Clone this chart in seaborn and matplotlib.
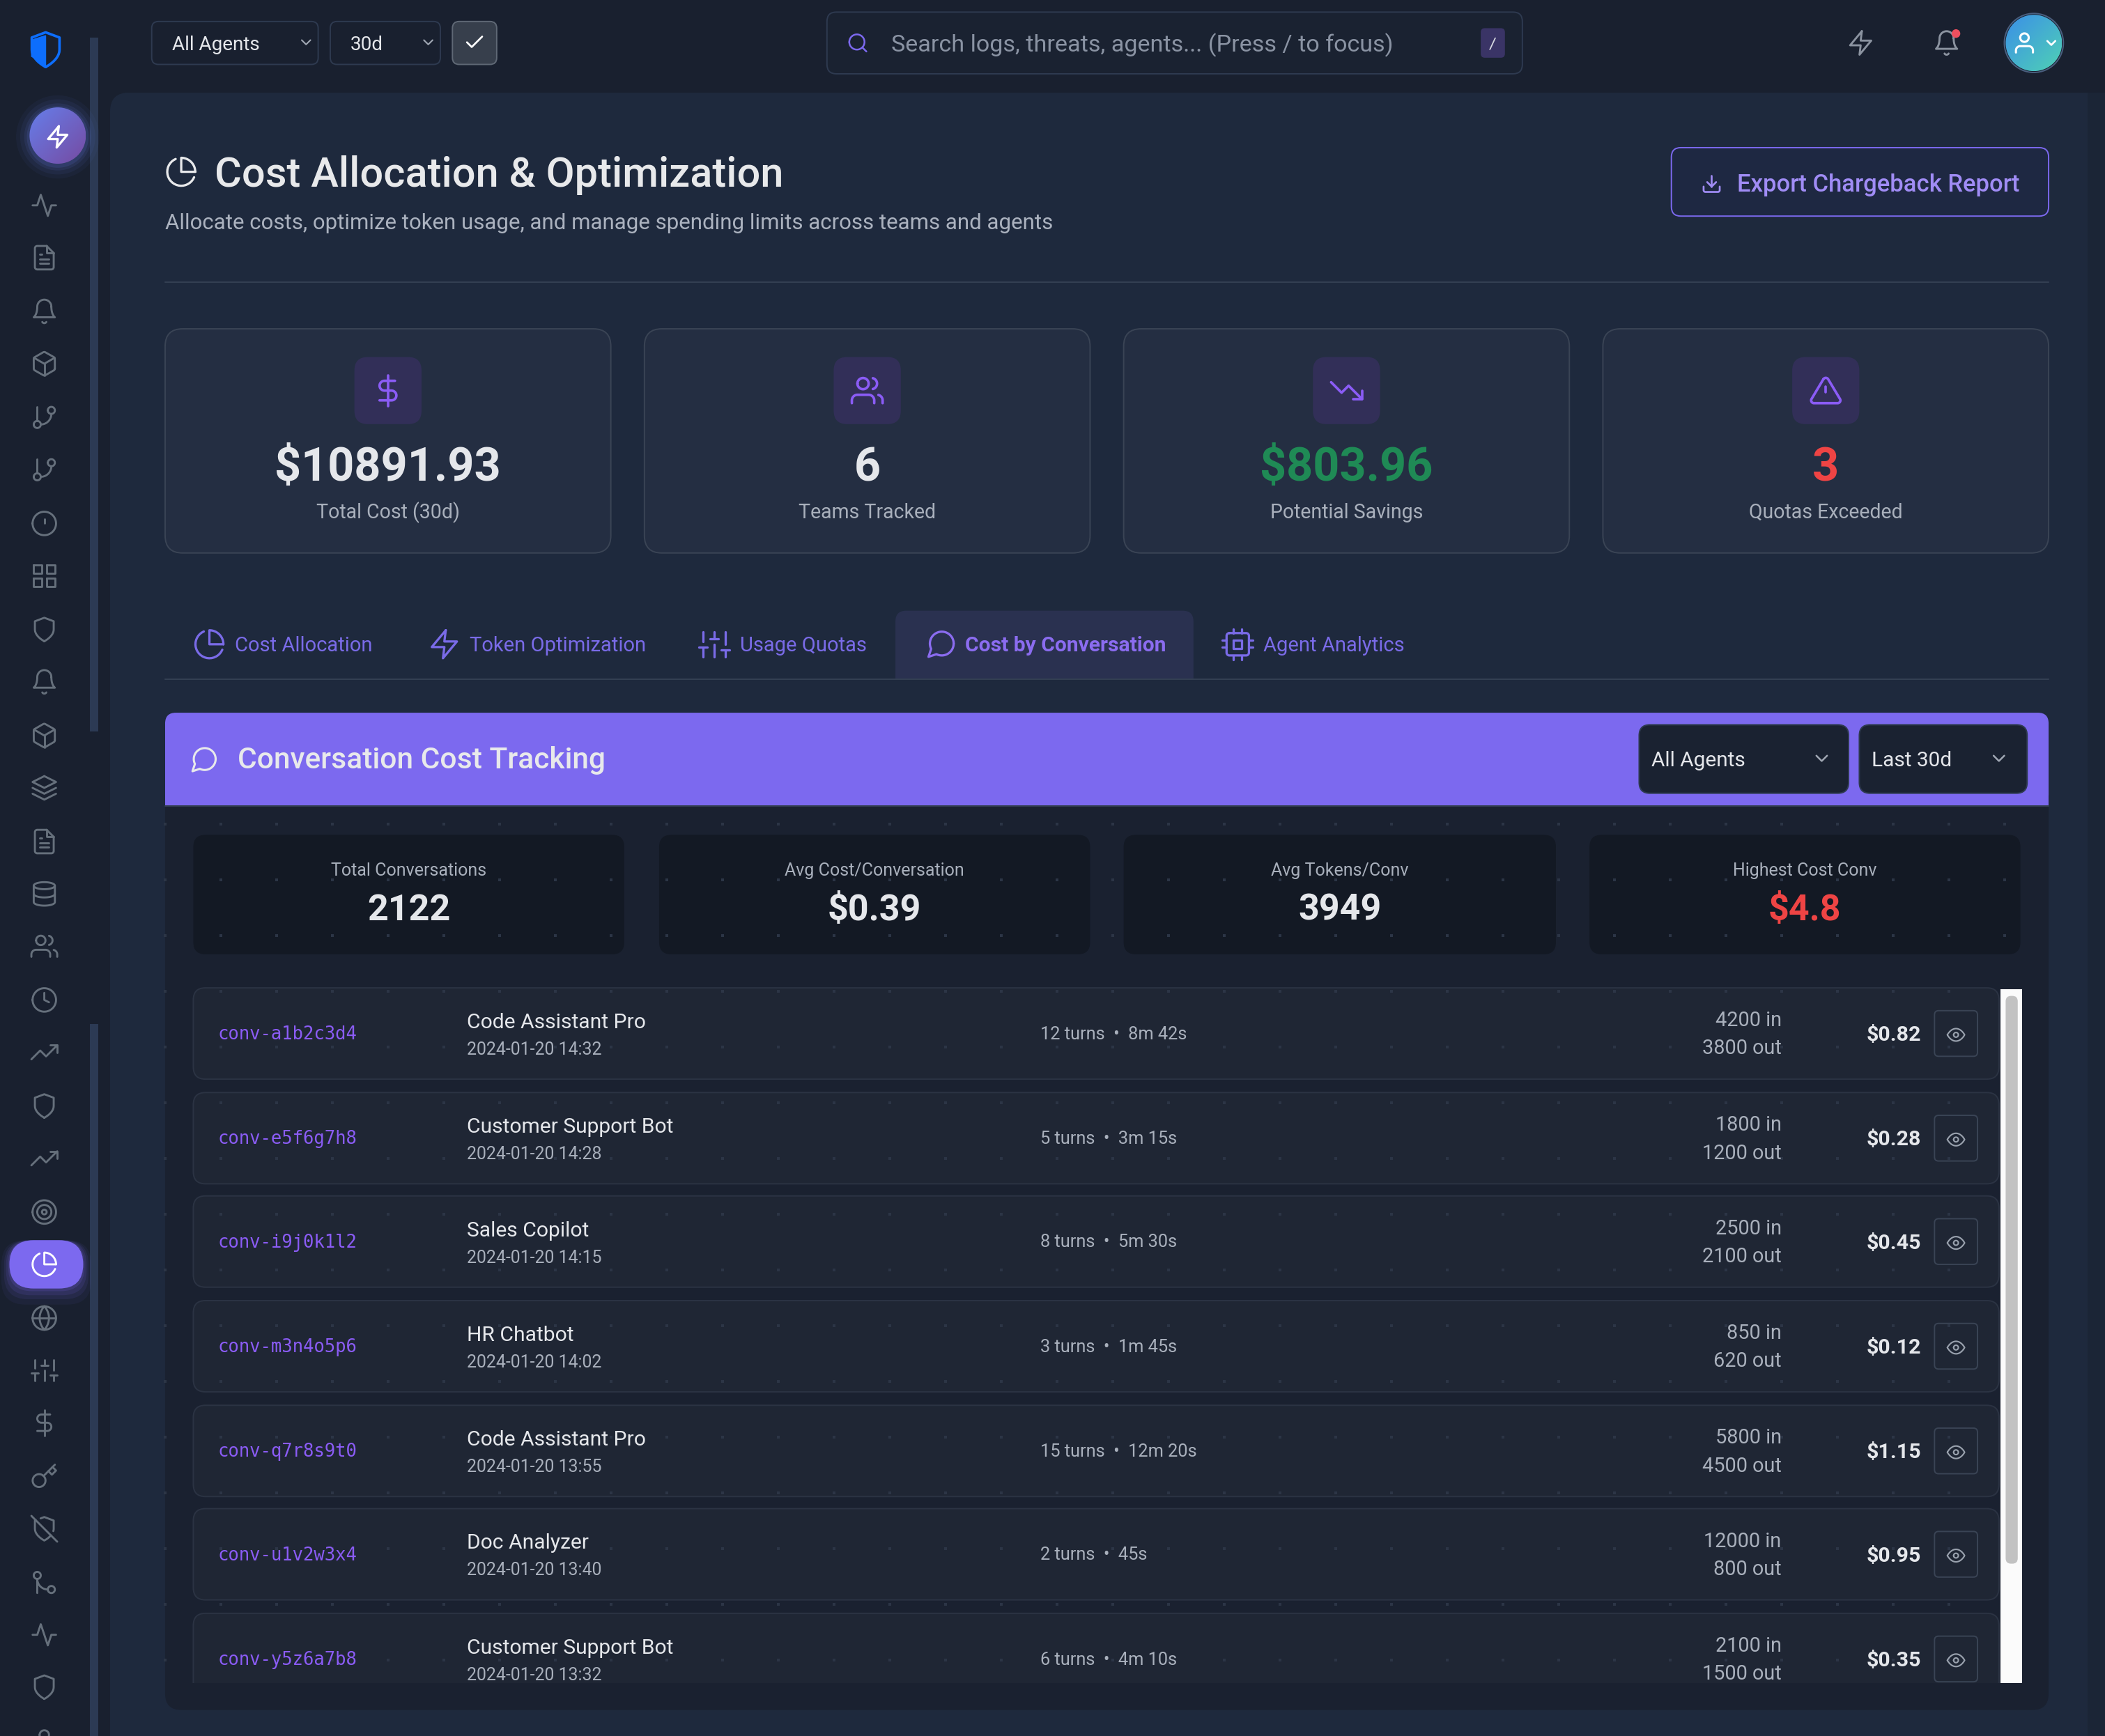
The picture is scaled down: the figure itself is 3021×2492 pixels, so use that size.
import re
import numpy as np
import matplotlib
matplotlib.use('Agg')
import matplotlib.pyplot as plt
import seaborn as sns
from matplotlib.patches import FancyBboxPatch, Rectangle, Circle
from matplotlib.colors import LinearSegmentedColormap

# ---- data
top_filters = ['All Agents', '30d']
page_title = 'Cost Allocation & Optimization'
page_sub = 'Allocate costs, optimize token usage, and manage spending limits across teams and agents'
export_label = 'Export Chargeback Report'
search_hint = 'Search logs, threats, agents... (Press / to focus)'

kpi_values = ['$10891.93', '6', '$803.96', '3']
kpi_labels = ['Total Cost (30d)', 'Teams Tracked', 'Potential Savings', 'Quotas Exceeded']
kpi_icons = ['dollar', 'users', 'trend_down', 'triangle']

tab_labels = ['Cost Allocation', 'Token Optimization', 'Usage Quotas', 'Cost by Conversation', 'Agent Analytics']
tab_icons = ['pie', 'zap', 'sliders', 'message', 'cpu']

section_title = 'Conversation Cost Tracking'
section_filters = ['All Agents', 'Last 30d']
stat_labels = ['Total Conversations', 'Avg Cost/Conversation', 'Avg Tokens/Conv', 'Highest Cost Conv']
stat_values = ['2122', '$0.39', '3949', '$4.8']

conv_ids = ['conv-a1b2c3d4', 'conv-e5f6g7h8', 'conv-i9j0k1l2', 'conv-m3n4o5p6',
            'conv-q7r8s9t0', 'conv-u1v2w3x4', 'conv-y5z6a7b8']
conv_agents = ['Code Assistant Pro', 'Customer Support Bot', 'Sales Copilot', 'HR Chatbot',
               'Code Assistant Pro', 'Doc Analyzer', 'Customer Support Bot']
conv_times = ['2024-01-20 14:32', '2024-01-20 14:28', '2024-01-20 14:15', '2024-01-20 14:02',
              '2024-01-20 13:55', '2024-01-20 13:40', '2024-01-20 13:32']
conv_turns = [12, 5, 8, 3, 15, 2, 6]
conv_durations = ['8m 42s', '3m 15s', '5m 30s', '1m 45s', '12m 20s', '45s', '4m 10s']
tokens_in = [4200, 1800, 2500, 850, 5800, 12000, 2100]
tokens_out = [3800, 1200, 2100, 620, 4500, 800, 1500]
conv_costs = ['$0.82', '$0.28', '$0.45', '$0.12', '$1.15', '$0.95', '$0.35']

sidebar_icons = ['activity', 'file', 'bell', 'box', 'branch', 'branch', 'alert', 'grid', 'shield',
                 'bell', 'box', 'layers', 'file', 'database', 'users', 'clock', 'trend_up', 'shield',
                 'trend_up', 'target', 'pie', 'globe', 'sliders', 'dollar', 'key', 'shield_off',
                 'merge', 'activity', 'shield', 'user']

# ---- icon outlines, 24 unit grid
def circ(cx, cy, r):
    return f'M{cx-r} {cy} A{r} {r} 0 1 0 {cx+r} {cy} A{r} {r} 0 1 0 {cx-r} {cy} Z '

ICONS = {
    'activity': 'M22 12 L18 12 L15 21 L9 3 L6 12 L2 12',
    'file': 'M14 2 H6 a2 2 0 0 0 -2 2 v16 a2 2 0 0 0 2 2 h12 a2 2 0 0 0 2 -2 V8 Z M14 2 L14 8 L20 8 M16 13 L8 13 M16 17 L8 17 M10 9 L8 9',
    'bell': 'M18 8 A6 6 0 0 0 6 8 c0 7 -3 9 -3 9 h18 s-3 -2 -3 -9 M13.73 21 a2 2 0 0 1 -3.46 0',
    'box': 'M21 16 V8 a2 2 0 0 0 -1 -1.73 l-7 -4 a2 2 0 0 0 -2 0 l-7 4 A2 2 0 0 0 3 8 v8 a2 2 0 0 0 1 1.73 l7 4 a2 2 0 0 0 2 0 l7 -4 A2 2 0 0 0 21 16 Z M3.27 6.96 L12 12.01 L20.73 6.96 M12 22.08 L12 12',
    'branch': 'M6 3 L6 15 ' + circ(18, 6, 3) + circ(6, 18, 3) + 'M18 9 a9 9 0 0 1 -9 9',
    'merge': circ(18, 18, 3) + circ(6, 6, 3) + 'M6 21 V9 a9 9 0 0 0 9 9',
    'alert': circ(12, 12, 10) + 'M12 8 L12 12 M12 16 L12.01 16',
    'grid': 'M3 3 h7 v7 h-7 Z M14 3 h7 v7 h-7 Z M14 14 h7 v7 h-7 Z M3 14 h7 v7 h-7 Z',
    'shield': 'M12 22 s8 -4 8 -10 V5 l-8 -3 l-8 3 v7 c0 6 8 10 8 10 Z',
    'shield_off': 'M19.69 14 a6.9 6.9 0 0 0 .31 -2 V5 l-8 -3 l-3.16 1.18 M4.73 4.73 L4 5 v7 c0 6 8 10 8 10 a20.29 20.29 0 0 0 5.62 -4.38 M1 1 L23 23',
    'layers': 'M12 2 L2 7 L12 12 L22 7 Z M2 17 L12 22 L22 17 M2 12 L12 17 L22 12',
    'database': 'M3 5 c0 -1.66 4 -3 9 -3 s9 1.34 9 3 s-4 3 -9 3 s-9 -1.34 -9 -3 Z M21 12 c0 1.66 -4 3 -9 3 s-9 -1.34 -9 -3 M3 5 v14 c0 1.66 4 3 9 3 s9 -1.34 9 -3 V5',
    'users': 'M17 21 v-2 a4 4 0 0 0 -4 -4 H5 a4 4 0 0 0 -4 4 v2 ' + circ(9, 7, 4) + 'M23 21 v-2 a4 4 0 0 0 -3 -3.87 M16 3.13 a4 4 0 0 1 0 7.75',
    'user': 'M20 21 v-2 a4 4 0 0 0 -4 -4 H8 a4 4 0 0 0 -4 4 v2 ' + circ(12, 7, 4),
    'clock': circ(12, 12, 10) + 'M12 6 L12 12 L16 14',
    'trend_up': 'M23 6 L13.5 15.5 L8.5 10.5 L1 18 M17 6 L23 6 L23 12',
    'trend_down': 'M23 18 L13.5 8.5 L8.5 13.5 L1 6 M17 18 L23 18 L23 12',
    'target': circ(12, 12, 10) + circ(12, 12, 6) + circ(12, 12, 2),
    'pie': 'M21.21 15.89 A10 10 0 1 1 8 2.83 M22 12 A10 10 0 0 0 12 2 v10 Z',
    'globe': circ(12, 12, 10) + 'M2 12 L22 12 M12 2 a15.3 15.3 0 0 1 4 10 a15.3 15.3 0 0 1 -4 10 a15.3 15.3 0 0 1 -4 -10 a15.3 15.3 0 0 1 4 -10 Z',
    'sliders': 'M4 21 L4 14 M4 10 L4 3 M12 21 L12 12 M12 8 L12 3 M20 21 L20 16 M20 12 L20 3 M1 14 L7 14 M9 8 L15 8 M17 16 L23 16',
    'dollar': 'M12 1 L12 23 M17 5 H9.5 a3.5 3.5 0 0 0 0 7 h5 a3.5 3.5 0 0 1 0 7 H6',
    'key': 'M21 2 l-2 2 M11.39 11.61 a5.5 5.5 0 1 1 -7.778 7.778 a5.5 5.5 0 0 1 7.777 -7.777 Z M11.39 11.61 L15.5 7.5 l3 3 L22 7 l-3 -3 M15.5 7.5 L19 4',
    'zap': 'M13 2 L3 14 L12 14 L11 22 L21 10 L12 10 Z',
    'eye': 'M1 12 s4 -8 11 -8 s11 8 11 8 s-4 8 -11 8 s-11 -8 -11 -8 Z ' + circ(12, 12, 3),
    'message': 'M21 11.5 a8.38 8.38 0 0 1 -.9 3.8 a8.5 8.5 0 0 1 -7.6 4.7 a8.38 8.38 0 0 1 -3.8 -.9 L3 21 l1.9 -5.7 a8.38 8.38 0 0 1 -.9 -3.8 a8.5 8.5 0 0 1 4.7 -7.6 a8.38 8.38 0 0 1 3.8 -.9 h.5 a8.48 8.48 0 0 1 8 8 v.5 Z',
    'cpu': 'M6 4 h12 a2 2 0 0 1 2 2 v12 a2 2 0 0 1 -2 2 h-12 a2 2 0 0 1 -2 -2 v-12 a2 2 0 0 1 2 -2 Z M9 9 h6 v6 h-6 Z M9 1 L9 4 M15 1 L15 4 M9 20 L9 23 M15 20 L15 23 M20 9 L23 9 M20 14 L23 14 M1 9 L4 9 M1 14 L4 14',
    'search': circ(11, 11, 8) + 'M21 21 L16.65 16.65',
    'download': 'M21 15 v4 a2 2 0 0 1 -2 2 H5 a2 2 0 0 1 -2 -2 v-4 M7 10 L12 15 L17 10 M12 15 L12 3',
    'check': 'M20 6 L9 17 L4 12',
    'chevron': 'M6 9 L12 15 L18 9',
    'triangle': 'M10.29 3.86 L1.82 18 a2 2 0 0 0 1.71 3 h16.94 a2 2 0 0 0 1.71 -3 L13.71 3.86 a2 2 0 0 0 -3.42 0 Z M12 9 L12 13 M12 17 L12.01 17',
}


def arc_points(p0, rx, ry, large, sweep, p1, n=24):
    # svg endpoint arc to points
    x0, y0 = p0
    x1, y1 = p1
    dx, dy = (x0 - x1) / 2, (y0 - y1) / 2
    lam = dx**2 / rx**2 + dy**2 / ry**2
    if lam > 1:
        rx *= np.sqrt(lam)
        ry *= np.sqrt(lam)
    num = rx**2 * ry**2 - rx**2 * dy**2 - ry**2 * dx**2
    den = rx**2 * dy**2 + ry**2 * dx**2
    k = np.sqrt(max(num / den, 0)) * (1 if large != sweep else -1)
    cx_, cy_ = k * rx * dy / ry, -k * ry * dx / rx
    cx, cy = cx_ + (x0 + x1) / 2, cy_ + (y0 + y1) / 2
    t0 = np.arctan2((dy - cy_) / ry, (dx - cx_) / rx)
    t1 = np.arctan2((-dy - cy_) / ry, (-dx - cx_) / rx)
    if sweep and t1 < t0:
        t1 += 2 * np.pi
    if not sweep and t1 > t0:
        t1 -= 2 * np.pi
    t = np.linspace(t0, t1, n)[1:]
    return list(zip(cx + rx * np.cos(t), cy + ry * np.sin(t)))


def parse_icon(d):
    toks = re.findall(r'[a-zA-Z]|-?\d*\.?\d+', d)
    i, subs, cur, pos, start, cmd, ctrl = 0, [], [], (0.0, 0.0), (0.0, 0.0), None, None

    def num():
        nonlocal i
        v = float(toks[i])
        i += 1
        return v

    while i < len(toks):
        if toks[i].isalpha():
            cmd = toks[i]
            i += 1
        rel = cmd.islower()
        c = cmd.upper()
        ox, oy = pos if rel else (0, 0)
        if c == 'Z':
            cur.append(start)
            pos = start
            subs.append(cur)
            cur = []
            continue
        if c == 'M':
            if cur:
                subs.append(cur)
            pos = (num() + ox, num() + oy)
            start = pos
            cur = [pos]
            cmd = 'l' if rel else 'L'
            continue
        if not cur:
            cur = [pos]
            start = pos
        if c == 'L':
            pos = (num() + ox, num() + oy)
            cur.append(pos)
        elif c == 'H':
            pos = (num() + ox, pos[1])
            cur.append(pos)
        elif c == 'V':
            pos = (pos[0], num() + oy)
            cur.append(pos)
        elif c in 'CS':
            if c == 'C':
                c1 = (num() + ox, num() + oy)
            else:
                c1 = (2 * pos[0] - ctrl[0], 2 * pos[1] - ctrl[1]) if ctrl else pos
            c2 = (num() + ox, num() + oy)
            end = (num() + ox, num() + oy)
            for t in np.linspace(0, 1, 14)[1:]:
                m = 1 - t
                cur.append((m**3 * pos[0] + 3 * m * m * t * c1[0] + 3 * m * t * t * c2[0] + t**3 * end[0],
                            m**3 * pos[1] + 3 * m * m * t * c1[1] + 3 * m * t * t * c2[1] + t**3 * end[1]))
            pos, ctrl = end, c2
            continue
        elif c == 'A':
            rx, ry = num(), num()
            num()
            large, sweep = int(num()), int(num())
            end = (num() + ox, num() + oy)
            cur.extend(arc_points(pos, rx, ry, large, sweep, end))
            pos = end
        ctrl = None
    if cur:
        subs.append(cur)
    return subs


# ---- page set up, axis is in screenshot units (1568 wide)
sns.set_theme(style='dark', rc={'figure.facecolor': '#19202f', 'axes.facecolor': '#19202f'})
plt.rcParams['font.family'] = ['Roboto', 'DejaVu Sans']
UI = 'Roboto'
W, H = 1568.0, 1293.4
PT = 1.387

fig = plt.figure(figsize=(30.21, 24.92), dpi=100)
ax = fig.add_axes([0, 0, 1, 1])
ax.set_xlim(0, W)
ax.set_ylim(H, 0)
ax.set_axis_off()
ax.set_autoscale_on(False)


def box(x0, y0, x1, y1, r=8, fc='none', ec='none', lw=1.0, z=1, alpha=None):
    p = FancyBboxPatch((x0, y0), x1 - x0, y1 - y0, boxstyle=f'round,pad=0,rounding_size={r}',
                       fc=fc, ec=ec, lw=lw * 1.4, zorder=z, alpha=alpha)
    ax.add_patch(p)
    return p


def txt(x, y, s, size, color='#e5e7eb', ha='left', weight=400, family=UI, z=3):
    return ax.text(x, y - 0.7, s, fontsize=size * PT, color=color, ha=ha, va='center_baseline',
                   fontweight=weight, family=family, zorder=z)


def icon(name, cx, cy, size, color, lw=1.5, z=3):
    k = size / 24.0
    for sub in parse_icon(ICONS[name]):
        pts = np.array(sub)
        ax.plot(cx + (pts[:, 0] - 12) * k, cy + (pts[:, 1] - 12) * k, color=color, lw=lw * PT,
                solid_capstyle='round', solid_joinstyle='round', zorder=z)


def gradient_disc(cx, cy, r, c0, c1, z=3):
    cmap = LinearSegmentedColormap.from_list('g', [c0, c1])
    yy, xx = np.mgrid[0:1:80j, 0:1:80j]
    im = ax.imshow((xx + yy) / 2, extent=(cx - r, cx + r, cy + r, cy - r), cmap=cmap, zorder=z,
                   aspect='auto', vmin=0, vmax=1)
    im.set_clip_path(Circle((cx, cy), r, transform=ax.transData))


# ---- backgrounds
box(82, 69, 1640, 1400, r=14, fc='#1e293d', z=0.5)
ax.add_patch(Rectangle((1555, 69), 13, H, fc='#1b2536', ec='none', zorder=0.6))
ax.add_patch(Rectangle((67, 28), 6, 517, fc='#2c3a54', ec='none', zorder=1))
ax.add_patch(Rectangle((67, 763), 6, 540, fc='#2c3a54', ec='none', zorder=1))

# ---- sidebar
icon('shield', 34, 37, 31, '#0d6efd', lw=1.9)
ax.fill([34, 34, 23.5, 23.5, 26, 34], [26.5, 49, 42, 30, 29, 26.5], color='#0d6efd', zorder=3)
for grow, a in zip([10, 7, 4, 2], [0.05, 0.07, 0.1, 0.14]):
    ax.add_patch(Circle((43, 102), 21 + grow, fc='#667eea', ec='none', alpha=a, zorder=1.5))
gradient_disc(43, 101, 21, '#667eea', '#764ba2')
icon('zap', 43, 102, 19, '#ffffff', lw=1.7, z=4)

for grow, a in zip([12, 8, 5, 2], [0.06, 0.09, 0.12, 0.16]):
    box(7 - grow / 2, 924, 62 + grow / 2, 960 + grow, r=18, fc='#7c69ef', alpha=a, z=1.5)
box(7, 924, 62, 960, r=18, fc='#7c69ef', z=2)

side_y = [153, 192, 232, 271, 311, 350, 390, 429, 469, 508, 548, 587, 627, 666, 705, 745,
          784, 824, 863, 903, 942, 982, 1021, 1060, 1100, 1139, 1179, 1218, 1257, 1297]
for name, y in zip(sidebar_icons, side_y):
    active = y == 942
    icon(name, 33, y, 21, '#ffffff' if active else '#66707c', lw=1.5, z=3)

# ---- top bar
box(113, 16, 237, 48, r=5, ec='#2e3a50', lw=1)
txt(128, 32.5, top_filters[0], 14.5, color='#e5e7eb')
icon('chevron', 228, 31.5, 13, '#a0a7b3', lw=1.1)
box(246, 16, 328, 48, r=5, ec='#2e3a50', lw=1)
txt(261, 32.5, top_filters[1], 14.5, color='#e5e7eb')
icon('chevron', 319, 31.5, 13, '#a0a7b3', lw=1.1)
box(337, 16, 370, 48, r=5, fc='#373f4c', ec='#5f6875', lw=1)
icon('check', 353.5, 31.5, 17, '#ffffff', lw=1.4)

box(616, 9, 1134, 55, r=7, fc='#1a2231', ec='#2e3a50', lw=1)
icon('search', 639, 32, 17, '#7c69ef', lw=1.3)
txt(664, 32.5, search_hint, 17.7, color='#8a93a3')
box(1103, 21, 1121, 43, r=3, fc='#3a3466')
txt(1112, 32.5, '/', 11, color='#d6d8e0', ha='center', family='DejaVu Sans Mono')

icon('zap', 1386, 32, 21, '#8b93a0', lw=1.5)
icon('bell', 1450, 32, 21, '#8b93a0', lw=1.5)
ax.add_patch(Circle((1457, 25), 3.2, fc='#ef4f5f', ec='none', zorder=4))
ax.add_patch(Circle((1515, 32), 22, fc='none', ec='#4a5f7f', lw=1.4, zorder=2))
gradient_disc(1515, 32, 21, '#3b8fe8', '#4fd1b5')
icon('user', 1508, 32, 19, '#ffffff', lw=1.6, z=4)
icon('chevron', 1528, 32, 12, '#ffffff', lw=1.4, z=4)

# ---- page header
icon('pie', 135, 128, 25, '#e8e9eb', lw=1.7)
txt(160, 128, page_title, 30.9, color='#e8e9eb', weight=500)
txt(123, 165.5, page_sub, 16.2, color='#abb2bf')
box(1245, 110, 1526, 161, r=7, fc='#1e2842', ec='#7c69ef', lw=1)
icon('download', 1275, 137, 16, '#a08cf5', lw=1.4)
txt(1294, 136.5, export_label, 18, color='#a08cf5', weight=500)
ax.plot([123, 1526], [210, 210], color='#333f52', lw=1.5, zorder=1)

# ---- kpi cards
kpi_left = [123, 480, 837, 1194]
kpi_colors = ['#e5e7eb', '#e5e7eb', '#1f8a55', '#ef4444']
for x, v, lab, name, col in zip(kpi_left, kpi_values, kpi_labels, kpi_icons, kpi_colors):
    box(x, 245, x + 332, 412, r=13, fc='#242e42', ec='#3a4455', lw=1)
    mid = x + 166
    box(mid - 25, 266, mid + 25, 316, r=10, fc='#322f58')
    icon(name, mid, 291, 25, '#8b5cf6', lw=1.9)
    txt(mid, 346, v, 34.5, color=col, ha='center', weight=700)
    txt(mid, 381, lab, 14.8, color='#a9b0bc', ha='center')

# ---- tabs
box(667, 455, 889, 520, r=8, fc='#2a3150', z=1)
ax.add_patch(Rectangle((660, 506), 240, 20, fc='#1e293d', ec='none', zorder=1.1))
ax.plot([123, 1526], [506, 506], color='#333f52', lw=1.5, zorder=1.2)
tab_icon_x = [156, 331, 532, 701, 922]
tab_text_x = [175, 350, 551, 719, 941]
for i, (lab, name) in enumerate(zip(tab_labels, tab_icons)):
    col = '#8b6cf0' if i == 3 else '#7a6be8'
    icon(name, tab_icon_x[i], 480, 25, col, lw=1.7)
    txt(tab_text_x[i], 480.5, lab, 15.6 if i == 3 else 15.1, color=col, weight=600 if i == 3 else 400)

# ---- section
box(123, 531, 1526, 1274, r=12, fc='#1a2130', z=1)
box(123, 531, 1526, 600, r=8, fc='#7c69ef', z=1.1)
ax.add_patch(Rectangle((123, 560), 1403, 40, fc='#7c69ef', ec='none', zorder=1.1))
ax.plot([123, 1526], [600.5, 600.5], color='#333f52', lw=1.4, zorder=1.2)
icon('message', 152, 566, 23, '#e8e9eb', lw=1.6)
txt(177, 565, section_title, 22.1, color='#e8e9eb', weight=500)
box(1221, 540, 1377, 591, r=8, fc='#1a2231', ec='#2e3a50', lw=1, z=1.3)
txt(1230, 566, section_filters[0], 15.5, color='#e5e7eb')
icon('chevron', 1357, 565, 16, '#a0a7b3', lw=1.3)
box(1385, 540, 1510, 591, r=8, fc='#1a2231', ec='#2e3a50', lw=1, z=1.3)
txt(1394, 566, section_filters[1], 15.5, color='#e5e7eb')
icon('chevron', 1489, 565, 16, '#a0a7b3', lw=1.3)

stat_left = [144, 491, 837, 1184]
stat_right = [465, 812, 1159, 1505]
for x0, x1, lab, v, i in zip(stat_left, stat_right, stat_labels, stat_values, range(4)):
    box(x0, 622, x1, 711, r=9, fc='#131924')
    mid = (x0 + x1) / 2
    txt(mid, 648, lab, 13, color='#a9b0bc', ha='center')
    txt(mid, 676, v, 27, color='#ef4444' if i == 3 else '#e5e7eb', ha='center', weight=700)

# ---- conversation rows
row_mid = [770, 848, 925, 1003, 1081, 1158, 1236]
for i, y in enumerate(row_mid):
    box(144, y - 34, 1489, y + 34, r=9, fc='#1f2634', ec='#2b3343', lw=1)
    txt(162, y, conv_ids[i], 13.3, color='#8b5cf6', family='DejaVu Sans Mono')
    txt(348, y - 9, conv_agents[i], 15.6, color='#e5e7eb')
    txt(348, y + 11.5, conv_times[i], 12.9, color='#a9b0bc')
    txt(775, y, f'{conv_turns[i]} turns  •  {conv_durations[i]}', 13.2, color='#a9b0bc')
    txt(1327, y - 10.5, f'{tokens_in[i]} in', 15, color='#a9b0bc', ha='right')
    txt(1327, y + 10.5, f'{tokens_out[i]} out', 15, color='#a9b0bc', ha='right')
    txt(1431, y + 0.5, conv_costs[i], 15.8, color='#e5e7eb', ha='right', weight=700)
    box(1441, y - 17, 1473, y + 17, r=3, ec='#3a4455', lw=1)
    icon('eye', 1457, y + 1, 14, '#9aa2ae', lw=1.1)

# faint background texture, shows through the whole section body
tex_x = np.arange(237, 2900, 80) / 3021 * W
tex_y = np.arange(1183, 2420, 80) / 3021 * W
gx, gy = np.meshgrid(tex_x, tex_y)
sns.scatterplot(x=gx.ravel(), y=gy.ravel(), ax=ax, marker='s', s=7, color='#2c3546',
                linewidth=0, zorder=2.5, legend=False)
ax.set_xlim(0, W)
ax.set_ylim(H, 0)
ax.set_axis_off()

# scroll strip and bottom cut off of the list
ax.add_patch(Rectangle((1490, 737), 16, 517, fc='#fbfbfb', ec='none', zorder=4))
box(1494, 742, 1503, 1165, r=4, fc='#c2c2c2', z=4.1)
ax.add_patch(Rectangle((140, 1254), 1370, 18, fc='#1a2130', ec='none', zorder=5))

fig.savefig('out.png', dpi=100, facecolor=fig.get_facecolor())
